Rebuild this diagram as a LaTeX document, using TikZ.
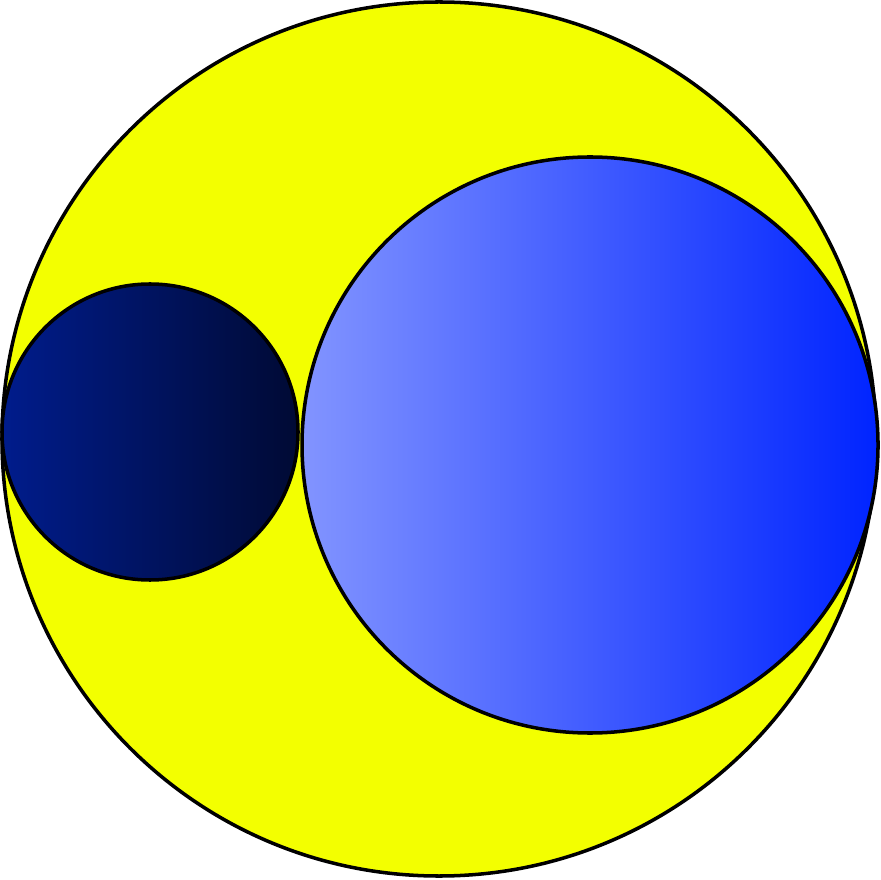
\documentclass[tikz,border=0pt]{standalone}
\usetikzlibrary{shapes, shapes.geometric}
\definecolor{lemon}{RGB}{243,255,0}
\definecolor{navyl}{RGB}{0,28,140}
\definecolor{navyr}{RGB}{0,10,52}
\definecolor{skyl}{RGB}{130,148,255}
\definecolor{skyr}{RGB}{0,36,255}
\begin{document}
\begin{tikzpicture}[x=0.01cm, y=-0.01cm, line width=1pt]
      \useasboundingbox (0, 0) rectangle (880, 880);
      \filldraw[fill=lemon] (439, 439) circle (437);
      \shade[left color=navyl, right color=navyr] (150, 432) circle (148);
      \shade[left color=skyl, right color=skyr] (590, 445) circle (288);
      \draw (150, 432) circle (148)
            (590, 445) circle (288);
    \end{tikzpicture}
\end{document}
